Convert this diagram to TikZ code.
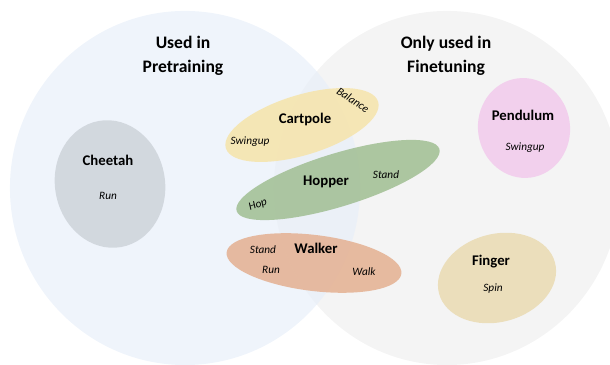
\documentclass[tikz,border=0pt]{standalone}
\usepackage{fontspec}
\setmainfont{Carlito}
\usetikzlibrary{shapes.geometric}
\definecolor{pretrainblue}{RGB}{232,239,249}
\definecolor{finetunegray}{RGB}{244,244,244}
\definecolor{cheetahgray}{RGB}{206,211,218}
\definecolor{cartpoleyellow}{RGB}{246,228,170}
\definecolor{hoppergreen}{RGB}{160,190,146}
\definecolor{walkerorange}{RGB}{228,176,145}
\definecolor{pendulumpink}{RGB}{242,202,236}
\definecolor{fingertan}{RGB}{234,219,178}
\tikzset{
  blob/.style={ellipse,draw=none,inner sep=0pt,fill opacity=.85},
  title/.style={font=\fontsize{12.5}{17}\selectfont\bfseries,align=center},
  env/.style={font=\fontsize{10.5}{12}\selectfont\bfseries,inner sep=1pt},
  task/.style={font=\fontsize{8}{9}\selectfont\itshape,inner sep=1pt},
}

\begin{document}
\begin{tikzpicture}[x=0.025cm,y=0.025cm]
\useasboundingbox (0,0) rectangle (610,365);

% the two big sets
\begin{scope}
\clip (0,0) rectangle (610,365);
\node[ellipse,fill=finetunegray,minimum width=8.65cm,minimum height=8.85cm]
  (fine) at (447,177) {};
\node[ellipse,fill=pretrainblue,fill opacity=.7,minimum width=8.75cm,minimum height=8.85cm]
  (pre) at (185,177) {};
\end{scope}

\node[title] (pretitle) at (183,309) {Used in\\Pretraining};
\node[title] (finetitle) at (446,309) {Only used in\\Finetuning};

% environments
\node[blob,fill=cheetahgray,minimum width=2.75cm,minimum height=3.2cm,rotate=10]
  (cheetah) at (110,181) {};
\node[blob,fill=cartpoleyellow,minimum width=3.98cm,minimum height=1.5cm,rotate=17]
  (cartpole) at (302,240) {};
\node[blob,fill=hoppergreen,minimum width=5.3cm,minimum height=1.33cm,rotate=17]
  (hopper) at (338,185) {};
\node[blob,fill=walkerorange,minimum width=4.4cm,minimum height=1.4cm,rotate=-7]
  (walker) at (314,102) {};
\node[blob,fill=pendulumpink,minimum width=2.3cm,minimum height=2.5cm,rotate=8]
  (pendulum) at (524,237) {};
\node[blob,fill=fingertan,minimum width=3cm,minimum height=2.2cm,rotate=15]
  (finger) at (497,87) {};

% names and tasks
\node[env] (cheetahname) at (108,205) {Cheetah};
\node[task] (cheetahrun) at (108,169) {Run};

\node[env] (cartpolename) at (305,246) {Cartpole};
\node[task,rotate=-33] (cartpolebal) at (353,265) {Balance};
\node[task] (cartpoleswing) at (250,223) {Swingup};

\node[env] (hoppername) at (326,183) {Hopper};
\node[task] (hopperstand) at (386,190) {Stand};
\node[task,rotate=20] (hopperhop) at (258,160) {Hop};

\node[env] (walkername) at (316,117) {Walker};
\node[task] (walkerstand) at (263,115) {Stand};
\node[task] (walkerrun) at (271,95) {Run};
\node[task] (walkerwalk) at (364,93) {Walk};

\node[env] (pendulumname) at (523,250) {Pendulum};
\node[task] (pendulumswing) at (525,217) {Swingup};

\node[env] (fingername) at (491,103) {Finger};
\node[task] (fingerspin) at (493,76) {Spin};
\end{tikzpicture}
\end{document}
